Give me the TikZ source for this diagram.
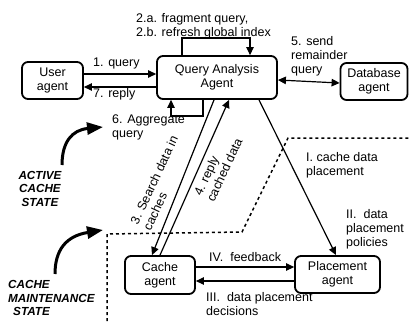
\documentclass[tikz,border=0pt]{standalone}
\usepackage{fontspec}
\setmainfont{Liberation Sans}
\usetikzlibrary{arrows.meta}
\begin{document}
\begin{tikzpicture}[x=1pt,y=-1pt,
  agent/.style={draw,line width=1.8pt,rounded corners=6pt,inner sep=0pt,align=center,
    font=\fontsize{12.5}{14}\selectfont},
  conn/.style={line width=1.2pt,-{Triangle[length=8pt,width=7.5pt]}},
  biconn/.style={line width=1.2pt,{Triangle[length=8pt,width=7.5pt]}-{Triangle[length=8pt,width=7.5pt]}},
  lbl/.style={inner sep=0pt,align=left,font=\fontsize{12.5}{14}\selectfont},
  statelbl/.style={inner sep=0pt,align=center,font=\fontsize{11.7}{13.5}\selectfont\bfseries\itshape},
  statearrow/.style={line width=3pt,-{Triangle[length=16pt,width=12pt]}},
  border/.style={line width=1.5pt,dash pattern=on 3pt off 3pt}]
\useasboundingbox (0,0) rectangle (409,321);

% agents
\node[agent,minimum width=61pt,minimum height=37pt] (user) at (52.5,80.5) {User\\agent};
\node[agent,minimum width=120pt,minimum height=43pt] (qaa) at (217,77.5) {Query Analysis\\Agent};
\node[agent,minimum width=67pt,minimum height=37pt] (db) at (374,81.5) {Database\\agent};
\node[agent,minimum width=70pt,minimum height=38pt] (cache) at (160,275) {Cache\\agent};
\node[agent,minimum width=85pt,minimum height=37pt] (place) at (337.5,274.5) {Placement\\agent};

% connectors
\draw[conn] ([yshift=6.5pt]user.east) -- ([yshift=3.5pt]qaa.west);
\draw[conn] ([yshift=-9.5pt]qaa.west) -- ([yshift=-6.5pt]user.east);
\draw[conn] ([xshift=-35pt]qaa.north) -- ++(0,-17) -| ([xshift=33pt]qaa.north);
\draw[conn] ([xshift=-14pt]qaa.south) -- ++(0,16) -| ([xshift=-46pt]qaa.south);
\draw[biconn] ([yshift=-2.5pt]qaa.east) -- ([yshift=-1.5pt]db.west);
\draw[conn] ([xshift=-3pt]qaa.south) -- ([xshift=-8pt]cache.north);
\draw[conn] (cache.north) -- ([xshift=12pt]qaa.south);
\draw[conn] ([xshift=42pt]qaa.south) -- ([xshift=-1.5pt]place.north);
\draw[conn] ([yshift=8pt]cache.east) -- ([yshift=7.5pt]place.west);
\draw[conn] ([yshift=-6.5pt]place.west) -- ([yshift=-6pt]cache.east);

% labels
\node[lbl,anchor=west] (l1) at (93,63) {1. query};
\node[lbl,anchor=west] (l7) at (93,94) {7. reply};
\node[lbl,anchor=west] (l2) at (136,26.5) {2.a. fragment query,\\2.b. refresh global index};
\node[lbl,anchor=west] (l5) at (291,56) {5. send\\remainder\\query};
\node[lbl,anchor=west] (l6) at (112,127.5) {6. Aggregate\\query};
\node[lbl,rotate=65] (l3) at (160.5,183) {3. Search data in\\caches};
\node[lbl,rotate=65] (l4) at (218,167) {4. reply\\cached data};
\node[lbl,anchor=west] (lI) at (306,165) {I. cache data\\placement};
\node[lbl,anchor=west] (lII) at (346,229.5) {II.\ \ data\\placement\\policies};
\node[lbl,anchor=west] (lIV) at (209,257) {IV.\ \ feedback};
\node[lbl,anchor=west] (lIII) at (206,304.5) {III.\ \ data placement\\decisions};

% state region border
\draw[border] (107,321) -- (107,234) -- (242,232) -- (288,138) -- (409,138);

% state labels and arrows
\node[statelbl] (active) at (40,188.5) {ACTIVE\\CACHE\\STATE};
\node[statelbl,align=left,anchor=west] (maint) at (8,298) {CACHE\\MAINTENANCE\\\hspace*{5pt}STATE};
\draw[statearrow] (62,165) .. controls (62,142) and (72,130) .. (103,127);
\draw[statearrow] (55,274) .. controls (55,250) and (66,236) .. (103,230);
\end{tikzpicture}
\end{document}
